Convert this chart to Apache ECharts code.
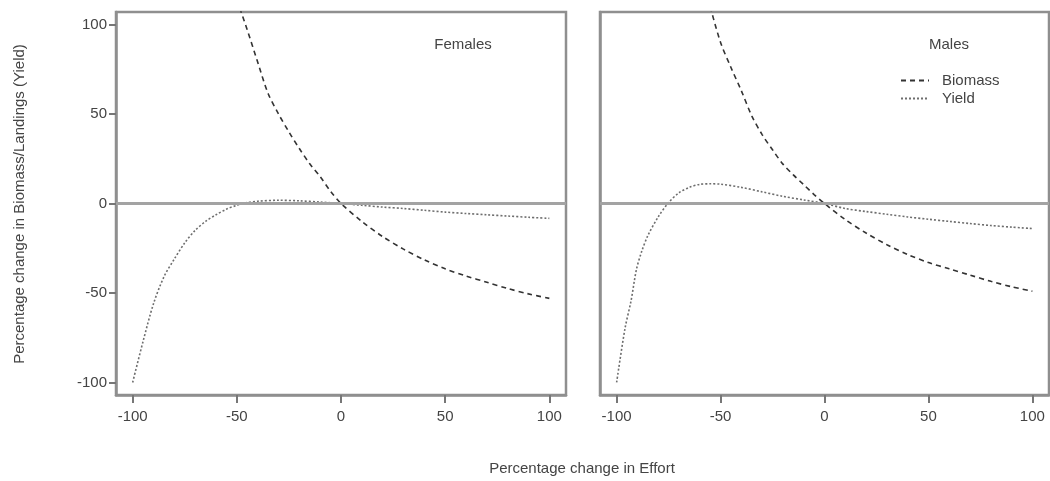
<!DOCTYPE html>
<html>
<head>
<meta charset="utf-8">
<script src="https://cdn.jsdelivr.net/npm/echarts@6/dist/echarts.min.js"></script>
<style>
  html, body { margin: 0; padding: 0; background: #fff; }
  #chart { width: 1050px; height: 481px; }
</style>
</head>
<body>
<div id="chart"></div>
<script>
// tick labels shared by both panels
const tickValues = [-100, -50, 0, 50, 100]

// Females
const femaleBiomassX = [-50, -45, -40, -35, -30, -25, -20, -15, -10, -5, 0, 10, 20, 30, 40, 50, 60, 70, 80, 90, 100]
const femaleBiomassY = [114, 97, 79, 61.5, 50, 40, 30.7, 22.2, 15, 6.8, 0, -10, -18.5, -25.5, -31.5, -36.5, -40.5, -44, -47.5, -50.5, -53]
const femaleYieldX = [-100, -95, -90, -85, -80, -75, -70, -65, -60, -55, -50, -45, -40, -30, -20, -10, 0, 10, 20, 30, 40, 50, 60, 70, 80, 90, 100]
const femaleYieldY = [-100, -77, -56, -41, -31, -22, -15, -10, -6.3, -3.2, -1, 0.5, 1.3, 1.8, 1.5, 0.8, 0, -1, -2, -2.8, -3.8, -4.8, -5.6, -6.3, -7, -7.7, -8.3]

// Males
const maleBiomassX = [-55, -50, -45, -40, -35, -30, -25, -20, -15, -10, -5, 0, 10, 20, 30, 40, 50, 60, 70, 80, 90, 100]
const maleBiomassY = [110, 90, 76, 63, 49, 38.5, 30, 22, 16, 10.5, 5, 0, -9, -16.5, -23, -28.5, -33, -36.5, -40, -43.5, -46.5, -49]
const maleYieldX = [-100, -96, -93, -90.5, -88, -85, -80, -75, -70, -65, -60, -55, -50, -40, -30, -20, -10, 0, 10, 20, 30, 40, 50, 60, 70, 80, 90, 100]
const maleYieldY = [-100, -70, -54, -37, -27, -18, -7.5, 0.5, 6, 9, 10.7, 11, 10.8, 9, 6.5, 4, 2, 0, -2.8, -4.5, -6, -7.5, -8.8, -10, -11.2, -12.3, -13.2, -14]

const font = '"Liberation Sans", Arial, sans-serif'
const textColor = '#444'
const frameColor = '#8f8f8f'
const tickColor = '#777'
const biomassColor = '#333'
const yieldColor = '#6e6e6e'

function pairs(xs, ys) {
  return xs.map((x, i) => [x, ys[i]])
}

function xAxisFor(gridIndex) {
  return {
    type: 'value',
    gridIndex,
    position: 'bottom',
    min: -108,
    max: 108,
    axisLine: { show: true, onZero: false, lineStyle: { color: frameColor, width: 2.5 } },
    splitLine: { show: false },
    axisTick: {
      show: true,
      length: 8,
      customValues: tickValues,
      lineStyle: { color: tickColor, width: 2 }
    },
    axisLabel: {
      customValues: tickValues,
      fontSize: 15,
      fontFamily: font,
      color: textColor,
      margin: 14
    }
  }
}

function yAxisFor(gridIndex, showLabels) {
  return {
    type: 'value',
    gridIndex,
    position: 'left',
    min: -107,
    max: 107,
    axisLine: { show: true, onZero: false, lineStyle: { color: frameColor, width: 2.5 } },
    splitLine: { show: false },
    axisTick: {
      show: showLabels,
      length: 7,
      customValues: tickValues,
      lineStyle: { color: tickColor, width: 2 }
    },
    axisLabel: {
      show: showLabels,
      customValues: tickValues,
      fontSize: 15,
      fontFamily: font,
      color: textColor,
      margin: 9
    }
  }
}

const zeroLine = {
  silent: true,
  symbol: 'none',
  label: { show: false },
  lineStyle: { color: '#a3a3a3', width: 3, type: 'solid' },
  data: [{ yAxis: 0 }]
}

function biomass(idx, data) {
  return {
    name: 'Biomass',
    type: 'line',
    xAxisIndex: idx,
    yAxisIndex: idx,
    data,
    symbol: 'none',
    smooth: 0.3,
    clip: true,
    itemStyle: { color: biomassColor },
    lineStyle: { color: biomassColor, width: 1.6, type: [5, 4] },
    markLine: zeroLine,
    z: 3
  }
}

function yieldSeries(idx, data) {
  return {
    name: 'Yield',
    type: 'line',
    xAxisIndex: idx,
    yAxisIndex: idx,
    data,
    symbol: 'none',
    smooth: 0.3,
    clip: true,
    itemStyle: { color: yieldColor },
    lineStyle: { color: yieldColor, width: 1.6, type: [2, 2] },
    z: 3
  }
}

const chart = echarts.init(document.getElementById('chart'))

chart.setOption({
  animation: false,
  backgroundColor: '#fff',
  grid: [
    { left: 116, top: 12, width: 450, height: 383, show: true, borderColor: frameColor, borderWidth: 2.5 },
    { left: 600, top: 12, width: 449, height: 383, show: true, borderColor: frameColor, borderWidth: 2.5 }
  ],
  xAxis: [xAxisFor(0), xAxisFor(1)],
  yAxis: [yAxisFor(0, true), yAxisFor(1, false)],
  legend: {
    data: ['Biomass', 'Yield'],
    orient: 'vertical',
    left: 895,
    top: 68,
    itemWidth: 28,
    itemHeight: 12,
    itemGap: 3,
    selectedMode: false,
    itemStyle: { opacity: 0 },
    textStyle: { fontSize: 15, fontFamily: font, color: textColor, padding: [0, 0, 0, 8] }
  },
  graphic: [
    {
      type: 'text', x: 463, y: 45,
      style: { text: 'Females', font: '15px ' + font, fill: textColor, align: 'center', verticalAlign: 'middle' }
    },
    {
      type: 'text', x: 949, y: 45,
      style: { text: 'Males', font: '15px ' + font, fill: textColor, align: 'center', verticalAlign: 'middle' }
    },
    {
      type: 'text', x: 582, y: 469,
      style: { text: 'Percentage change in Effort', font: '15px ' + font, fill: textColor, align: 'center', verticalAlign: 'middle' }
    },
    {
      type: 'text', x: 20, y: 204, rotation: Math.PI / 2,
      style: { text: 'Percentage change in Biomass/Landings (Yield)', font: '15px ' + font, fill: textColor, align: 'center', verticalAlign: 'middle' }
    }
  ],
  series: [
    biomass(0, pairs(femaleBiomassX, femaleBiomassY)),
    yieldSeries(0, pairs(femaleYieldX, femaleYieldY)),
    biomass(1, pairs(maleBiomassX, maleBiomassY)),
    yieldSeries(1, pairs(maleYieldX, maleYieldY))
  ]
})
</script>
</body>
</html>
